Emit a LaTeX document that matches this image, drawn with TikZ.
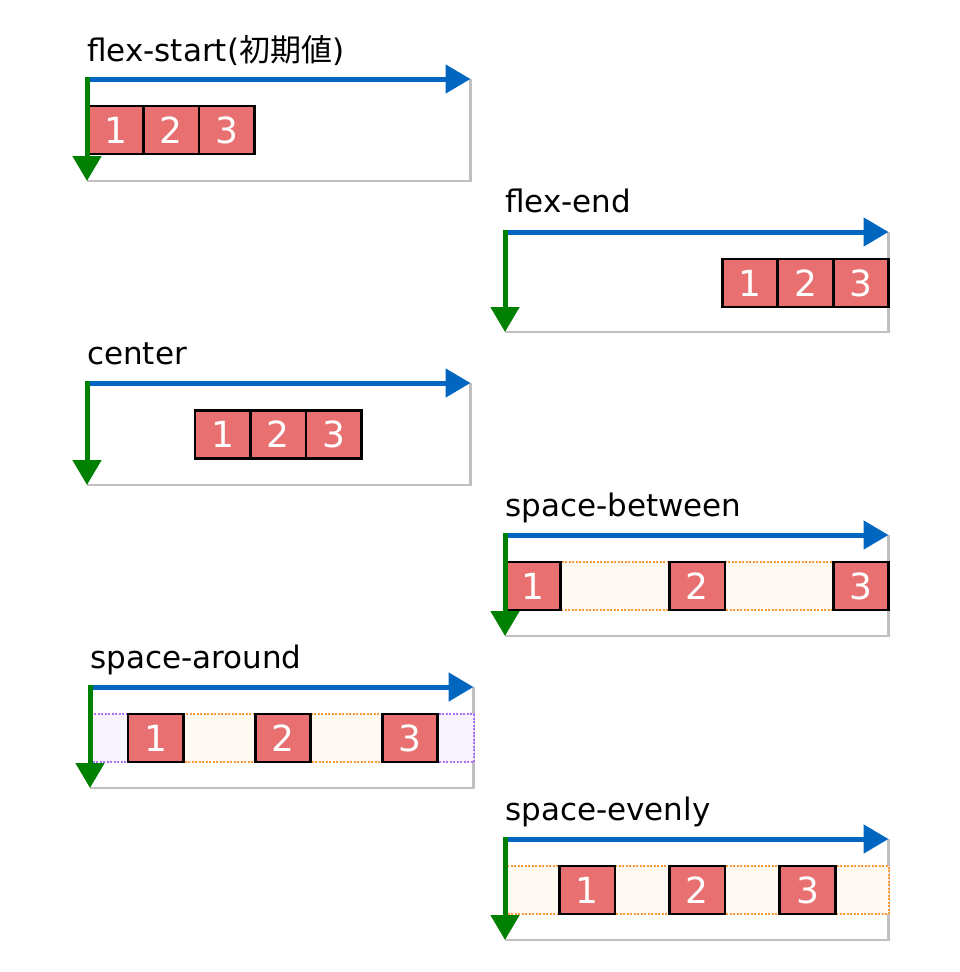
\documentclass[tikz,border=0pt]{standalone}
\usepackage{fontspec}
\setmainfont{DejaVu Sans}
\newfontfamily\jpfont{Noto Sans CJK JP}
\usetikzlibrary{arrows.meta}
\definecolor{itemred}{RGB}{232,112,112}
\definecolor{axisblue}{RGB}{0,102,192}
\definecolor{axisgreen}{RGB}{0,128,0}
\definecolor{framegray}{RGB}{192,192,192}
\definecolor{gaporange}{RGB}{255,153,51}
\definecolor{gapcream}{RGB}{255,249,243}
\definecolor{edgepurple}{RGB}{176,112,255}
\definecolor{edgelilac}{RGB}{248,244,255}
\tikzstyle{item}=[draw=black,line width=2.75pt,fill=itemred,text=white,minimum width=55.5pt,minimum height=48pt,inner sep=0pt,outer sep=0pt,font=\fontsize{36}{36}\selectfont]
\tikzstyle{heading}=[anchor=base west,inner sep=0pt,font=\fontsize{31}{31}\selectfont]
\tikzstyle{panel}=[draw=framegray,line width=2.5pt]
\tikzstyle{mainaxis}=[draw=axisblue,line width=5pt,-{Triangle[length=25pt,width=28pt]}]
\tikzstyle{crossaxis}=[draw=axisgreen,line width=5pt,shorten <=-2.5pt,-{Triangle[length=25pt,width=28pt]}]
\tikzstyle{gapbox}=[draw=gaporange,fill=gapcream,line width=2pt,dash pattern=on 2pt off 1.5pt]
\tikzstyle{edgebox}=[draw=edgepurple,fill=edgelilac,line width=2pt,dash pattern=on 2pt off 1.5pt]

\begin{document}
\begin{tikzpicture}[x=1pt,y=-1pt]
      \useasboundingbox (0,0) rectangle (960,972);
      % flex-start
      \node[heading] (t1) at (87,61.5) {flex-start({\jpfont 初期値})};
      \coordinate (o1) at (87,79);
      \coordinate (x1) at (470.5,79);
      \coordinate (y1) at (87,181);
      \draw[panel] (x1) |- (y1);
      \node[item] (a1) at (115.75,130) {1};
      \node[item] (b1) at (171.25,130) {2};
      \node[item] (c1) at (226.75,130) {3};
      \draw[mainaxis] (o1) -- (x1);
      \draw[crossaxis] (o1) -- (y1);
      % flex-end
      \node[heading] (t2) at (505,212) {flex-end};
      \coordinate (o2) at (505,232);
      \coordinate (x2) at (888.5,232);
      \coordinate (y2) at (505,332);
      \draw[panel] (x2) |- (y2);
      \node[item] (a2) at (750,283) {1};
      \node[item] (b2) at (805.5,283) {2};
      \node[item] (c2) at (861,283) {3};
      \draw[mainaxis] (o2) -- (x2);
      \draw[crossaxis] (o2) -- (y2);
      % center
      \node[heading] (t3) at (87,364) {center};
      \coordinate (o3) at (87,383);
      \coordinate (x3) at (470.5,383);
      \coordinate (y3) at (87,485);
      \draw[panel] (x3) |- (y3);
      \node[item] (a3) at (222.75,434.5) {1};
      \node[item] (b3) at (278.25,434.5) {2};
      \node[item] (c3) at (333.75,434.5) {3};
      \draw[mainaxis] (o3) -- (x3);
      \draw[crossaxis] (o3) -- (y3);
      % space-between
      \node[heading] (t4) at (505,516.5) {space-between};
      \coordinate (o4) at (505,535);
      \coordinate (x4) at (888.5,535);
      \coordinate (y4) at (505,636);
      \draw[panel] (x4) |- (y4);
      \draw[gapbox] (560,562) rectangle (669.5,610);
      \draw[gapbox] (725,562) rectangle (833.5,610);
      \node[item] (a4) at (532.75,586) {1};
      \node[item] (b4) at (697.25,586) {2};
      \node[item] (c4) at (861,586) {3};
      \draw[mainaxis] (o4) -- (x4);
      \draw[crossaxis] (o4) -- (y4);
      % space-around
      \node[heading] (t5) at (90,668.5) {space-around};
      \coordinate (o5) at (90,687);
      \coordinate (x5) at (473.5,687);
      \coordinate (y5) at (90,788);
      \draw[panel] (x5) |- (y5);
      \draw[edgebox] (91.5,714) rectangle (128,762);
      \draw[gapbox] (183.5,714) rectangle (255,762);
      \draw[gapbox] (310.5,714) rectangle (382.5,762);
      \draw[edgebox] (438,714) rectangle (473.5,762);
      \node[item] (a5) at (155.8,738) {1};
      \node[item] (b5) at (282.9,738) {2};
      \node[item] (c5) at (410,738) {3};
      \draw[mainaxis] (o5) -- (x5);
      \draw[crossaxis] (o5) -- (y5);
      % space-evenly
      \node[heading] (t6) at (505,820) {space-evenly};
      \coordinate (o6) at (505,839);
      \coordinate (x6) at (888.5,839);
      \coordinate (y6) at (505,940);
      \draw[panel] (x6) |- (y6);
      \draw[gapbox] (506.5,866) rectangle (559.5,914);
      \draw[gapbox] (615,866) rectangle (669.5,914);
      \draw[gapbox] (725,866) rectangle (780,914);
      \draw[gapbox] (835,866) rectangle (888.5,914);
      \node[item] (a6) at (587.2,890) {1};
      \node[item] (b6) at (697.2,890) {2};
      \node[item] (c6) at (807.5,890) {3};
      \draw[mainaxis] (o6) -- (x6);
      \draw[crossaxis] (o6) -- (y6);
\end{tikzpicture}
\end{document}
